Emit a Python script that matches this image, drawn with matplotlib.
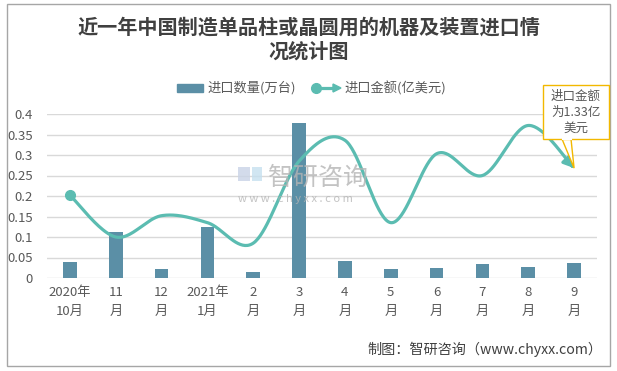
import numpy as np
import matplotlib
matplotlib.use("Agg")
from matplotlib import pyplot as plt
from matplotlib.patches import Rectangle, Polygon
from matplotlib.lines import Line2D

plt.rcParams['font.family'] = ['Noto Sans CJK SC', 'DejaVu Sans']

months = ['2020年\n10月', '11\n月', '12\n月', '2021年\n1月', '2\n月', '3\n月',
          '4\n月', '5\n月', '6\n月', '7\n月', '8\n月', '9\n月']
quantity = [0.039, 0.112, 0.021, 0.124, 0.014, 0.379, 0.041, 0.022, 0.024, 0.034, 0.027, 0.036]
amount = [0.202, 0.100, 0.152, 0.135, 0.085, 0.285, 0.336, 0.135, 0.303, 0.250, 0.372, 0.268]
yticks = [0, 0.05, 0.1, 0.15, 0.2, 0.25, 0.3, 0.35, 0.4]
ytick_labels = ['0', '0.05', '0.1', '0.15', '0.2', '0.25', '0.3', '0.35', '0.4']

bar_color = '#5b8fa6'
line_color = '#5bbcb1'
text_color = '#595959'

W, H = 617, 371


def fx(px):
    return px / W


def fy(py):
    return 1 - py / H


def smooth(xs, ys, n=40):
    # Excel-style smoothed line (Catmull-Rom as cubic Bezier)
    pts = np.column_stack([xs, ys]).astype(float)
    out = [pts[0]]
    for i in range(len(pts) - 1):
        p0 = pts[i - 1] if i > 0 else pts[i]
        p1 = pts[i]
        p2 = pts[i + 1]
        p3 = pts[i + 2] if i + 2 < len(pts) else pts[i + 1]
        c1 = p1 + (p2 - p0) / 6
        c2 = p2 - (p3 - p1) / 6
        t = np.linspace(0, 1, n)[1:, None]
        seg = ((1 - t) ** 3) * p1 + 3 * ((1 - t) ** 2) * t * c1 + 3 * (1 - t) * t ** 2 * c2 + t ** 3 * p2
        out.extend(seg)
    out = np.array(out)
    return out[:, 0], out[:, 1]


fig = plt.figure(figsize=(W / 100, H / 100), dpi=100)
ax = fig.add_axes([fx(47), fy(278), (597 - 47) / W, (278 - 114) / H])

x = np.arange(len(months))
ax.bar(x, quantity, width=0.3, color=bar_color, zorder=2)

sx, sy = smooth(x, amount)
ax.plot(sx[:-3], sy[:-3], color=line_color, lw=2.3, solid_capstyle='round', zorder=3)
ax.annotate('', xy=(sx[-1], sy[-1]), xytext=(sx[-4], sy[-4]),
            arrowprops=dict(arrowstyle='-|>,head_length=0.6,head_width=0.3',
                            color=line_color, lw=2.3, shrinkA=0, shrinkB=0), zorder=3)
ax.plot(x[0], amount[0], 'o', color=line_color, ms=7, zorder=4)

ax.set_xlim(-0.5, len(months) - 0.5)
ax.set_ylim(0, 0.4)
ax.set_yticks(yticks)
ax.set_yticklabels(ytick_labels)
ax.set_xticks(x)
ax.set_xticklabels(months, linespacing=1.6)
ax.tick_params(axis='both', length=0, labelsize=9.5, colors=text_color)
ax.tick_params(axis='x', pad=6)
ax.tick_params(axis='y', pad=10)
ax.grid(axis='y', color='#d9d9d9', lw=1, zorder=0)
ax.set_axisbelow(True)
for s in ax.spines.values():
    s.set_visible(False)

# title
fig.text(0.5, fy(27), '近一年中国制造单品柱或晶圆用的机器及装置进口情', ha='center', va='center',
         fontsize=14.5, fontweight='bold', color='#404040')
fig.text(0.5, fy(51), '况统计图', ha='center', va='center',
         fontsize=14.5, fontweight='bold', color='#404040')

# legend
fig.add_artist(Rectangle((fx(177), fy(92)), 26 / W, 8 / H, transform=fig.transFigure,
                         color=bar_color))
fig.text(fx(207), fy(88), '进口数量(万台)', ha='left', va='center', fontsize=9.5, color=text_color)
fig.add_artist(Line2D([fx(316), fx(334)], [fy(88), fy(88)], transform=fig.transFigure,
                      color=line_color, lw=2.3))
fig.add_artist(Line2D([fx(316)], [fy(88)], transform=fig.transFigure, marker='o',
                      color=line_color, ms=7))
fig.add_artist(Polygon([[fx(333), fy(84)], [fx(341), fy(88)], [fx(333), fy(92)]],
                       closed=True, transform=fig.transFigure, color=line_color))
fig.text(fx(344), fy(88), '进口金额(亿美元)', ha='left', va='center', fontsize=9.5, color=text_color)

# callout
tip = ax.transData.transform((x[-1], amount[-1]))
tip = fig.transFigure.inverted().transform(tip)
fig.add_artist(Polygon([[fx(562), fy(139)], tip, [fx(571), fy(139)]], closed=True,
                       transform=fig.transFigure, facecolor='white', edgecolor='#f2b800', lw=1, zorder=5))
fig.add_artist(Rectangle((fx(543), fy(139)), 66 / W, 54 / H, transform=fig.transFigure,
                         facecolor='white', edgecolor='#f2b800', lw=1, zorder=6))
fig.add_artist(Line2D([fx(562.5), fx(570.5)], [fy(139), fy(139)], transform=fig.transFigure,
                      color='white', lw=1.5, zorder=7))
fig.text(fx(576), fy(112), '进口金额\n为1.33亿\n美元', ha='center', va='center', fontsize=9,
         color=text_color, linespacing=1.3, zorder=8)

# watermark
fig.text(fx(268), fy(178), '智研咨询', ha='left', va='center', fontsize=18, color='#b4b4b4',
         alpha=0.8, zorder=1)
fig.text(fx(238), fy(199), 'w w w . c h y x x . c o m', ha='left', va='center', fontsize=8,
         color='#b4b4b4', alpha=0.8, zorder=1)
fig.add_artist(Rectangle((fx(238), fy(181)), 12 / W, 14 / H, transform=fig.transFigure,
                         facecolor='#c9d3e6', edgecolor='none', alpha=0.8))
fig.add_artist(Rectangle((fx(252), fy(181)), 10 / W, 14 / H, transform=fig.transFigure,
                         facecolor='#c6e0ef', edgecolor='none', alpha=0.8))

# source
fig.text(fx(602), fy(349), '制图：智研咨询（www.chyxx.com）', ha='right', va='center',
         fontsize=10.2, color='#404040')

# border
fig.add_artist(Rectangle((fx(7), fy(366)), 603 / W, 362 / H, transform=fig.transFigure,
                         facecolor='none', edgecolor='#a6a6a6', lw=1))

fig.savefig('out.png', dpi=100)
